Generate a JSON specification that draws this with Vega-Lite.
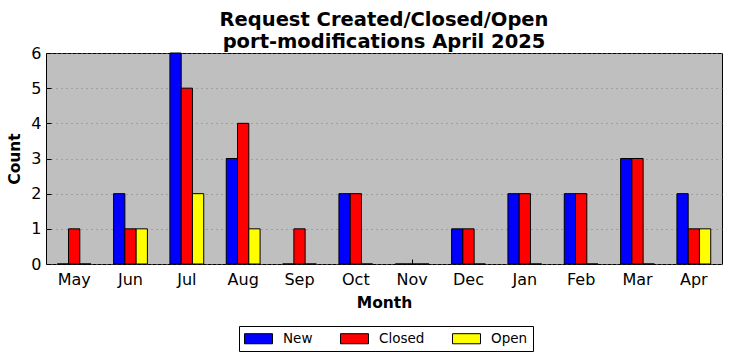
{
  "$schema": "https://vega.github.io/schema/vega-lite/v6.json",
  "width": 676,
  "height": 211,
  "autosize": {"type": "none"},
  "padding": {"left": 46, "top": 53, "right": 10, "bottom": 97},
  "background": "white",
  "title": {
    "text": ["Request Created/Closed/Open", "port-modifications April 2025"],
    "font": "DejaVu Sans",
    "fontSize": 19.5,
    "fontWeight": "bold",
    "color": "black",
    "anchor": "middle",
    "offset": -7,
    "lineHeight": 22
  },
  "config": {
    "view": {"fill": "#bfbfbf", "stroke": "black", "strokeWidth": 1},
    "font": "DejaVu Sans"
  },
  "data": {
    "values": [
      {"month": "May", "type": "New", "count": 0},
      {"month": "May", "type": "Closed", "count": 1},
      {"month": "May", "type": "Open", "count": 0},
      {"month": "Jun", "type": "New", "count": 2},
      {"month": "Jun", "type": "Closed", "count": 1},
      {"month": "Jun", "type": "Open", "count": 1},
      {"month": "Jul", "type": "New", "count": 6},
      {"month": "Jul", "type": "Closed", "count": 5},
      {"month": "Jul", "type": "Open", "count": 2},
      {"month": "Aug", "type": "New", "count": 3},
      {"month": "Aug", "type": "Closed", "count": 4},
      {"month": "Aug", "type": "Open", "count": 1},
      {"month": "Sep", "type": "New", "count": 0},
      {"month": "Sep", "type": "Closed", "count": 1},
      {"month": "Sep", "type": "Open", "count": 0},
      {"month": "Oct", "type": "New", "count": 2},
      {"month": "Oct", "type": "Closed", "count": 2},
      {"month": "Oct", "type": "Open", "count": 0},
      {"month": "Nov", "type": "New", "count": 0},
      {"month": "Nov", "type": "Closed", "count": 0},
      {"month": "Nov", "type": "Open", "count": 0},
      {"month": "Dec", "type": "New", "count": 1},
      {"month": "Dec", "type": "Closed", "count": 1},
      {"month": "Dec", "type": "Open", "count": 0},
      {"month": "Jan", "type": "New", "count": 2},
      {"month": "Jan", "type": "Closed", "count": 2},
      {"month": "Jan", "type": "Open", "count": 0},
      {"month": "Feb", "type": "New", "count": 2},
      {"month": "Feb", "type": "Closed", "count": 2},
      {"month": "Feb", "type": "Open", "count": 0},
      {"month": "Mar", "type": "New", "count": 3},
      {"month": "Mar", "type": "Closed", "count": 3},
      {"month": "Mar", "type": "Open", "count": 0},
      {"month": "Apr", "type": "New", "count": 2},
      {"month": "Apr", "type": "Closed", "count": 1},
      {"month": "Apr", "type": "Open", "count": 1}
    ]
  },
  "mark": {"type": "bar", "stroke": "black", "strokeWidth": 1, "opacity": 1},
  "encoding": {
    "x": {
      "field": "month",
      "type": "nominal",
      "sort": ["May","Jun","Jul","Aug","Sep","Oct","Nov","Dec","Jan","Feb","Mar","Apr"],
      "scale": {"paddingInner": 0.4, "paddingOuter": 0.2},
      "axis": {
        "orient": "bottom",
        "title": "Month",
        "titleFontSize": 15.5,
        "titleFontWeight": "bold",
        "titleColor": "black",
        "titlePadding": 8,
        "labelAngle": 0,
        "labelFontSize": 16,
        "labelColor": "black",
        "labelPadding": 12,
        "tickSize": -5,
        "tickColor": "black",
        "domain": false,
        "grid": false
      }
    },
    "xOffset": {
      "field": "type",
      "type": "nominal",
      "sort": ["New", "Closed", "Open"],
      "scale": {"paddingInner": 0, "paddingOuter": 0}
    },
    "y": {
      "field": "count",
      "type": "quantitative",
      "scale": {"domain": [0, 6], "nice": false},
      "axis": {
        "orient": "left",
        "title": "Count",
        "titleFontSize": 15.5,
        "titleFontWeight": "bold",
        "titleColor": "black",
        "titlePadding": 8,
        "labelFontSize": 16,
        "labelColor": "black",
        "labelPadding": 10,
        "values": [0,1,2,3,4,5,6],
        "tickSize": -5,
        "tickColor": "black",
        "domain": false,
        "grid": true,
        "gridColor": "#7f7f7f",
        "gridDash": [1, 4],
        "gridWidth": 1
      }
    },
    "color": {
      "field": "type",
      "type": "nominal",
      "sort": ["New", "Closed", "Open"],
      "scale": {"domain": ["New", "Closed", "Open"], "range": ["#0000ff", "#ff0000", "#ffff00"]},
      "legend": {
        "title": null,
        "orient": "none",
        "legendX": 193,
        "legendY": 273,
        "direction": "horizontal",
        "strokeColor": "black",
        "fillColor": "white",
        "padding": 5,
        "symbolType": "M-1,-0.72H3V0.72H-1Z",
        "symbolSize": 196,
        "symbolStrokeColor": "black",
        "symbolStrokeWidth": 1,
        "symbolOpacity": 1,
        "labelFontSize": 13.5,
        "labelColor": "black",
        "labelOffset": 24,
        "columnPadding": 25
      }
    }
  }
}
